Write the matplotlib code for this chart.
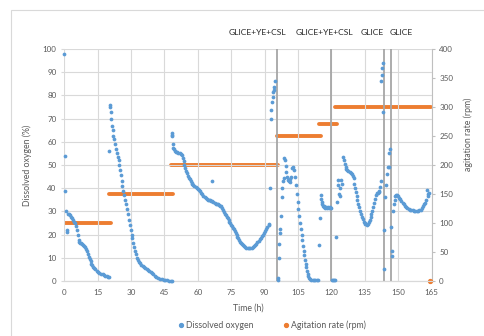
import matplotlib.pyplot as plt
from matplotlib.lines import Line2D
from matplotlib.patches import Rectangle

plt.rcParams["font.family"] = ["Lato", "DejaVu Sans"]

# dissolved oxygen (%)
do_time = [
    0, 0.2, 0.4, 0.7, 1.0, 1.3, 1.8, 2.3, 2.7, 3.2, 3.6, 4.0, 4.5, 5.0, 5.4, 5.8,
    6.1, 6.4, 6.8, 7.2, 7.6, 8.0, 8.5, 9.0, 9.4, 9.9, 10.3, 10.7, 11.0, 11.4,
    11.8, 12.2, 12.6, 13.0, 13.5, 14.0, 14.6, 15.2, 15.8, 16.5, 17.2, 17.8, 18.4,
    19.0, 19.6, 20.2,
    20.2, 20.5, 20.7, 20.9, 21.2, 21.5, 21.8, 22.1, 22.4, 22.8, 23.2, 23.6, 24.0,
    24.4, 24.8, 25.1, 25.4, 25.8, 26.1, 26.5, 27.0, 27.4, 27.8, 28.2, 28.6, 29.0,
    29.4, 29.8, 30.2, 30.6, 31.0, 31.4, 31.8, 32.2, 32.6, 33.0, 33.5, 34.0, 34.6,
    35.2, 35.8, 36.4, 37.0, 37.6, 38.2, 38.8, 39.4, 40.0, 40.7, 41.4, 42.2, 43.0,
    43.8, 44.6, 45.4, 46.2, 47.0, 47.8, 48.3,
    48.3, 48.4, 48.5, 48.7, 49.0, 49.4, 49.8, 50.3, 50.8, 51.3, 51.8, 52.3, 52.8,
    53.2, 53.6, 54.0, 54.4, 54.8, 55.2, 55.6, 56.0, 56.4, 56.8, 57.2, 57.6, 58.0,
    58.5, 59.0, 59.5, 60.0, 60.5, 61.0, 61.5, 62.0, 62.5, 63.0, 63.5, 64.0, 64.5,
    65.0, 65.5, 66.0, 66.5, 66.5, 67.0, 67.5, 68.0, 68.5, 69.0, 69.5, 70.0, 70.5,
    71.0, 71.4, 71.8, 72.2, 72.6, 73.0, 73.4, 73.8, 74.2, 74.6, 75.0, 75.4, 75.8,
    76.2, 76.6, 77.0, 77.4, 77.8, 78.2, 78.6, 79.0, 79.4, 79.8, 80.2, 80.7, 81.2,
    81.8, 82.4, 83.0, 83.6, 84.2, 84.8, 85.3, 85.8, 86.3, 86.8, 87.3, 87.8, 88.3,
    88.8, 89.3, 89.8, 90.3, 90.8, 91.3, 91.8, 92.2,
    92.5, 92.7, 93.0, 93.3, 93.6, 93.9, 94.1, 94.3, 94.6,
    96.0, 96.1, 96.4, 96.6, 96.8, 97.0, 97.3, 97.7, 98.0, 98.3, 98.6, 98.9, 99.1,
    99.4, 99.7, 100.0, 100.4, 100.8, 101.2, 101.6, 102.0, 102.4, 102.8, 103.2,
    103.6, 104.0, 104.4, 104.8, 105.2, 105.6, 106.0, 106.3, 106.6, 106.9, 107.2,
    107.5, 107.8, 108.1, 108.4, 108.7, 109.0, 109.3, 109.6, 110.0, 110.5, 111.0,
    111.6, 112.2, 112.8, 113.4, 114.0,
    114.6, 115.0, 115.2, 115.4, 115.6, 115.9, 116.2, 116.5, 116.9, 117.3, 117.7,
    118.1, 118.5, 118.9, 119.3, 119.7,
    120.3, 120.7, 121.1, 121.5,
    122.3, 122.6, 122.9, 123.1, 123.5, 123.8, 124.1, 124.4, 124.7, 125.2, 125.6,
    126.0, 126.4, 126.8, 127.2, 127.7, 128.2, 128.7, 129.2, 129.7, 130.1, 130.4,
    130.7, 131.0, 131.3, 131.7, 132.1, 132.5, 132.9, 133.3, 133.7, 134.1, 134.5,
    134.9, 135.3, 135.8, 136.3, 136.8, 137.2, 137.6, 138.0, 138.4, 138.8, 139.2,
    139.6, 140.0, 140.4, 140.8, 141.2, 141.6, 142.0, 142.3,
    142.5, 142.7, 142.9, 143.1, 143.4, 143.6, 143.7,
    144.2, 144.4, 144.9, 145.3, 145.8, 146.1, 146.5,
    146.9, 147.1, 147.3, 147.7, 148.0, 148.4, 148.8, 149.2, 149.6, 150.0, 150.5,
    151.0, 151.5, 152.0, 152.5, 153.0, 153.6, 154.2, 154.8, 155.4, 156.0, 156.6,
    157.2, 157.8, 158.4, 159.0, 159.6, 160.2, 160.8, 161.3, 161.8, 162.3, 162.7,
    163.0, 163.3, 163.6, 163.9,
]
do_value = [
    98, 54, 39, 30, 22, 21, 29, 29, 28.5, 27.8, 27, 26.5, 25.5, 25, 23.5, 22,
    20, 17.5, 17, 16.5, 16.2, 16, 15.5, 15, 14.5, 13.8, 12.8, 11.5, 10.5, 9.5,
    8.5, 7.5, 6.8, 6.2, 5.5, 5, 4.2, 3.7, 3.3, 3.1, 2.9, 2.5, 2.2,
    2.0, 1.9, 1.9,
    56, 76, 75, 73, 70, 67, 65, 62.5, 61, 59, 57, 55, 53.5,
    52, 50, 48, 45.5, 43, 41, 39, 37, 35, 33, 31, 29, 26.5,
    24, 22, 20, 18.4, 16.5, 14.8, 13, 11.5, 10, 9, 8.2, 7.6, 7,
    6.5, 6.2, 5.8, 5.2, 4.7, 4.2, 3.7, 3.3, 2.9, 2.3, 1.8, 1.3, 0.9,
    0.7, 0.5, 0.3, 0.4, 0.2, 0.1, 0,
    64, 63, 62.5, 59, 57.5, 57, 56.2, 55.8, 55.5, 55.2, 55, 54.6, 54.2,
    53, 51.8, 50.2, 48.5, 47.3, 46.4, 45.4, 44.6, 43.8, 43, 42.4, 41.9, 41.3,
    40.8, 40.4, 39.9, 39.5, 39.1, 38.6, 38.1, 37.4, 36.8, 36.3, 35.8, 35.4, 35.1,
    34.9, 34.8, 34.6, 34.4, 43, 34.1, 33.8, 33.4, 33.2, 33, 32.7, 32.5, 32.2,
    31.5, 30.8, 29.8, 29, 28.3, 27.6, 27, 26.2, 25.5, 24.8, 24.1, 23.5, 22.9,
    22.2, 21.5, 20.7, 19.9, 19.1, 18.4, 17.6, 16.9, 16.3, 15.8, 15.4, 15.1, 14.7,
    14.4, 14.2, 14.1, 14.2, 14.4, 14.8, 15.2, 15.6, 16.1, 16.6, 17.2, 17.9, 18.6,
    19.3, 20, 20.8, 21.5, 22.4, 23.2, 24, 24.5,
    40, 70, 73.6, 77, 79.3, 81.5, 82.5, 83.5, 86,
    0.5, 1.5, 10, 16, 20.5, 22.5, 28, 36, 40, 43, 44.5, 53, 52,
    49.5, 47, 45, 43.5, 43, 42.5, 44, 45, 48.5, 49, 48,
    45, 41.4, 37.5, 34, 31, 28, 25, 22.5, 20, 17.5, 15,
    13, 11, 9, 7.5, 6, 4.5, 3, 2, 1.2, 0.7, 0.5,
    0.4, 0.4, 0.4, 0.4, 0.4,
    15.5, 27, 37, 35.5, 34, 33, 32.5, 31.8, 32.5, 31.5, 32,
    31.5, 32, 31.5, 32, 31.5,
    0.5, 0.5, 0.5, 0.5,
    19, 34, 41.5, 43.7, 37.4, 36.6, 40, 43.7, 41.6, 53.6, 52,
    50.3, 49.2, 48.3, 47.8, 47.2, 46.8, 46.5, 46, 45.3, 44.2, 42,
    40.3, 38.3, 36.5, 34.8, 33.3, 31.8, 30.3, 29, 27.7, 26.6, 25.6,
    25, 24.6, 24.3, 24.5, 25.3, 26.5, 27.7, 29, 30.3, 31.8, 33.5,
    35.5, 37.2, 37.8, 38, 38.2, 38.6, 40.5, 43.2,
    86, 89, 92, 94, 73, 22, 5,
    36.3, 41.4, 46, 49.3, 49.3, 55.3, 57,
    23.4, 12.9, 10.8, 30, 33.2, 35, 36.5, 37.2, 37, 36.5, 35.8,
    35.2, 34.4, 33.7, 33, 32.4, 31.9, 31.4, 31, 30.7, 30.5, 30.4,
    30.3, 30.3, 30.3, 30.3, 30.5, 30.8, 31.5, 32.3, 33, 33.8, 35,
    39.2, 36.5, 37.5, 38,
]

# agitation rate set points (rpm)
agit_start = [0, 20.2, 47.9, 95.6, 114.3, 121.8]
agit_end = [20.8, 48.8, 95.9, 115.4, 122.6, 164.6]
agit_rpm = [100, 150, 200, 250, 270, 300]
agit_last_time = [164.2]
agit_last_rpm = [0]

# feed additions
event_times = [95.5, 120.0, 143.6, 147.0]
event_names = ["GLICE+YE+CSL", "GLICE+YE+CSL", "GLICE", "GLICE"]
event_text_x = [86.7, 117.0, 138.5, 151.6]

blue = "#5B9BD5"
orange = "#ED7D31"
grey_text = "#595959"
grid = "#D9D9D9"

fig = plt.figure(figsize=(4.84, 3.36), dpi=100)
ax = fig.add_axes([64.3 / 484, 55 / 336, (431.5 - 64.3) / 484, 232 / 336])
ax2 = ax.twinx()

fig.patches.append(Rectangle((11 / 484, -0.5), 2, 1.5 - 10 / 336, transform=fig.transFigure,
                             fill=False, edgecolor=grid, linewidth=0.8))

ax.set_xlim(0, 165)
ax.set_ylim(0, 100)
ax2.set_ylim(0, 400)
ax.set_xticks(range(0, 166, 15))
ax.set_yticks(range(0, 101, 10))
ax2.set_yticks(range(0, 401, 50))
ax.grid(True, color=grid, linewidth=0.8)
ax.set_axisbelow(True)

for a in (ax, ax2):
    for side in ("top", "left", "right"):
        a.spines[side].set_visible(False)
    a.spines["bottom"].set_color(grid)
ax2.spines["right"].set_visible(True)
ax2.spines["right"].set_color("#BFBFBF")

ax.tick_params(axis="x", length=0, pad=6, labelsize=5.8, labelcolor=grey_text)
ax.tick_params(axis="y", length=2.5, color=grid, pad=3, labelsize=5.8, labelcolor=grey_text)
ax2.tick_params(axis="y", length=2.5, color="#BFBFBF", pad=3, labelsize=5.8, labelcolor=grey_text)

for t in event_times:
    ax.axvline(t, color="#A6A6A6", linewidth=1.3, zorder=1)

for s, e, r in zip(agit_start, agit_end, agit_rpm):
    ax2.plot([s, e], [r, r], color=orange, linewidth=2.8, solid_capstyle="round", zorder=3)
ax2.plot(agit_last_time, agit_last_rpm, "o", color=orange, markersize=2.8, clip_on=False, zorder=3)

ax.plot(do_time, do_value, "o", color=blue, markersize=2.7, markeredgewidth=0, clip_on=False, zorder=4)
ax.set_zorder(ax2.get_zorder() + 1)
ax.patch.set_visible(False)

for x, name in zip(event_text_x, event_names):
    ax.text(x, 1.073, name, transform=ax.get_xaxis_transform(), ha="center", va="center",
            fontsize=6.1, color="#262626")

ax.set_xlabel("Time (h)", fontsize=6.3, color=grey_text, labelpad=5)
ax.set_ylabel("Dissolved oxygen (%)", fontsize=6.3, color=grey_text, labelpad=8)
fig.text(468 / 484, 1 - 134 / 336, "agitation rate (rpm)", rotation=90, ha="center", va="center",
         fontsize=6.3, color=grey_text)

handles = [
    Line2D([], [], marker="o", linestyle="none", color=blue, markersize=2.8),
    Line2D([], [], marker="o", linestyle="none", color=orange, markersize=2.8),
]
fig.legend(handles, ["Dissolved oxygen", "Agitation rate (rpm)"], loc="center",
           bbox_to_anchor=(271 / 484, 11 / 336), ncol=2, frameon=False, fontsize=6.3,
           labelcolor=grey_text, handletextpad=0.1, columnspacing=3.2, handlelength=1)

fig.savefig("out.png", dpi=100)
